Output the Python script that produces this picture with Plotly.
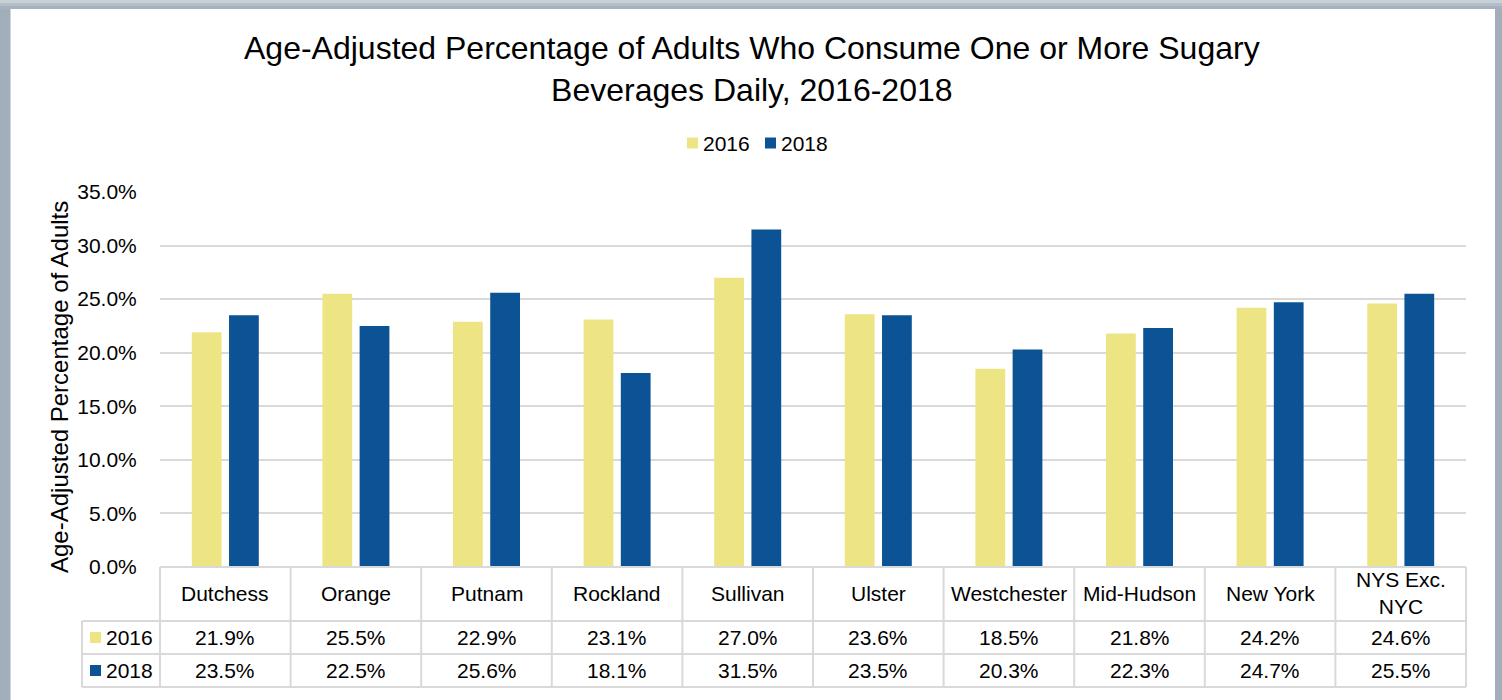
import plotly.graph_objects as go

categories = ["Dutchess", "Orange", "Putnam", "Rockland", "Sullivan", "Ulster",
              "Westchester", "Mid-Hudson", "New York", "NYS Exc. NYC"]
header_labels = ["Dutchess", "Orange", "Putnam", "Rockland", "Sullivan", "Ulster",
                 "Westchester", "Mid-Hudson", "New York", "NYS Exc.<br>NYC"]
years = ["2016", "2018"]
values_2016 = [21.9, 25.5, 22.9, 23.1, 27.0, 23.6, 18.5, 21.8, 24.2, 24.6]
values_2018 = [23.5, 22.5, 25.6, 18.1, 31.5, 23.5, 20.3, 22.3, 24.7, 25.5]
y_ticks = [0, 5, 10, 15, 20, 25, 30, 35]

colors = {"2016": "#EDE584", "2018": "#0B5395"}
series = {"2016": values_2016, "2018": values_2018}

FONT = "Arial, 'Liberation Sans', sans-serif"
W_FIG, H_FIG = 1502, 700
PL, PR, PT, PB = 160, 1466, 192, 567
PW, PH = PR - PL, PB - PT


def px(x):
    return (x - PL) / PW


def py(y):
    return (PB - y) / PH


fig = go.Figure()
for yr in years:
    fig.add_trace(go.Bar(
        x=categories, y=series[yr], name=yr,
        marker=dict(color=colors[yr], line=dict(width=0)),
        showlegend=False,
    ))

shapes = []
annotations = []
GRID = "#D9D9D9"

# outer frame
FRAME = "#A2AEBA"
shapes.append(dict(type="rect", xref="paper", yref="paper", x0=px(0), x1=px(10.5),
                   y0=py(700), y1=py(0), fillcolor=FRAME, line=dict(width=0), layer="above"))
shapes.append(dict(type="rect", xref="paper", yref="paper", x0=px(1495), x1=px(1502),
                   y0=py(700), y1=py(0), fillcolor=FRAME, line=dict(width=0), layer="above"))
top_bands = [("#C8D0D8", 0, 3), ("#B4BEC8", 3, 6), ("#A5B1BC", 6, 9)]
for c, a, b in top_bands:
    shapes.append(dict(type="rect", xref="paper", yref="paper", x0=px(0), x1=px(1502),
                       y0=py(b), y1=py(a), fillcolor=c, line=dict(width=0), layer="above"))

# data table lines
row_lines = [621, 654, 687]
shapes.append(dict(type="line", xref="paper", yref="paper", x0=0, x1=1, y0=0, y1=0,
                   line=dict(color=GRID, width=2)))
for ry in row_lines:
    shapes.append(dict(type="line", xref="paper", yref="paper", x0=px(82), x1=1,
                       y0=py(ry), y1=py(ry), line=dict(color=GRID, width=2)))
n = len(categories)
for i in range(n + 1):
    shapes.append(dict(type="line", xref="paper", yref="paper", x0=i / n, x1=i / n,
                       y0=0, y1=py(687), line=dict(color=GRID, width=2)))
shapes.append(dict(type="line", xref="paper", yref="paper", x0=px(82), x1=px(82),
                   y0=py(621), y1=py(687), line=dict(color=GRID, width=2)))

# header labels
for cat, lab in zip(categories, header_labels):
    annotations.append(dict(x=cat, xref="x", y=py(593), yref="paper", text=lab,
                            showarrow=False, font=dict(family=FONT, size=21, color="#000000"),
                            xanchor="center", yanchor="middle"))

# table values
row_centers = {"2016": 637.5, "2018": 670.5}
for yr in years:
    for cat, v in zip(categories, series[yr]):
        annotations.append(dict(x=cat, xref="x", y=py(row_centers[yr]), yref="paper",
                                text=f"{v:.1f}%", showarrow=False,
                                font=dict(family=FONT, size=21, color="#000000"),
                                xanchor="center", yanchor="middle"))
    annotations.append(dict(x=px(104), xref="paper", y=py(row_centers[yr]), yref="paper",
                            text=yr, showarrow=False,
                            font=dict(family=FONT, size=21, color="#000000"),
                            xanchor="left", yanchor="middle"))
    cy = row_centers[yr]
    shapes.append(dict(type="rect", xref="paper", yref="paper", x0=px(90), x1=px(101),
                       y0=py(cy + 5.5), y1=py(cy - 5.5), fillcolor=colors[yr],
                       line=dict(width=0)))

# legend (manual)
legend_items = [("2016", 687), ("2018", 765)]
for yr, lx in legend_items:
    shapes.append(dict(type="rect", xref="paper", yref="paper", x0=px(lx), x1=px(lx + 11),
                       y0=py(148.5), y1=py(137.5), fillcolor=colors[yr], line=dict(width=0)))
    annotations.append(dict(x=px(lx + 14), xref="paper", y=py(143), yref="paper", text=yr,
                            showarrow=False, font=dict(family=FONT, size=21, color="#000000"),
                            xanchor="left", yanchor="middle"))

# title
annotations.append(dict(x=px(752), xref="paper", y=py(69), yref="paper",
                        text="Age-Adjusted Percentage of Adults Who Consume One or More Sugary<br>Beverages Daily, 2016-2018",
                        showarrow=False, font=dict(family=FONT, size=32, color="#000000"),
                        xanchor="center", yanchor="middle"))

# y-axis title
annotations.append(dict(x=px(59), xref="paper", y=py(387), yref="paper",
                        text="Age-Adjusted Percentage of Adults", textangle=-90,
                        showarrow=False, font=dict(family=FONT, size=24, color="#000000"),
                        xanchor="center", yanchor="middle"))

fig.update_layout(
    width=W_FIG, height=H_FIG,
    margin=dict(l=PL, r=W_FIG - PR, t=PT, b=H_FIG - PB, pad=0),
    paper_bgcolor="#FFFFFF", plot_bgcolor="#FFFFFF",
    barmode="group", bargap=0.43, bargroupgap=0.2,
    showlegend=False,
    font=dict(family=FONT, size=21, color="#000000"),
    xaxis=dict(type="category", showticklabels=False, showgrid=False, zeroline=False,
               showline=False, ticks="", range=[-0.5, n - 0.5]),
    yaxis=dict(range=[0, 35], tickvals=y_ticks, ticktext=[f"{t:.1f}%" for t in y_ticks],
               showgrid=True, gridcolor=GRID, gridwidth=2, zeroline=False, showline=False,
               ticks="outside", ticklen=18, tickcolor="rgba(0,0,0,0)",
               tickfont=dict(family=FONT, size=21, color="#000000")),
    shapes=shapes, annotations=annotations,
)

fig.write_html(
    "out.html",
    config={"displayModeBar": False},
    post_script="document.body.style.margin='0';document.body.style.padding='0';document.documentElement.style.overflow='hidden';",
)
